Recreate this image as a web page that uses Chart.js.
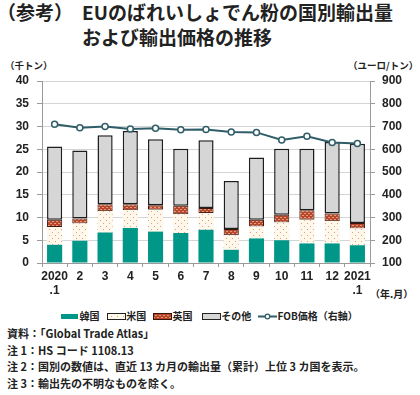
<!DOCTYPE html>
<html><head><meta charset="utf-8">
<script src="https://cdn.jsdelivr.net/npm/chart.js@4"></script>
<style>
html,body{margin:0;padding:0;background:#fff;}
#wrap{position:relative;width:420px;height:395px;overflow:hidden;font-family:"Liberation Sans","Noto Sans CJK JP",sans-serif;color:#222;}
.t{position:absolute;white-space:nowrap;font-family:"Noto Sans CJK JP",sans-serif;}
#chartBox{position:absolute;left:0;top:60px;width:420px;height:240px;}
.sw{position:absolute;}
</style></head><body>
<div id="wrap">
  <div class="t" style="left:-3px;top:-2px;font-size:19px;font-weight:bold;">（参考）</div>
  <div class="t" style="left:82px;top:-2px;font-size:19px;font-weight:bold;">EUのばれいしょでん粉の国別輸出量</div>
  <div class="t" style="left:82px;top:23px;font-size:19px;font-weight:bold;">および輸出価格の推移</div>
  <div class="t" style="left:5px;top:58px;font-size:9.5px;font-weight:bold;">（千トン）</div>
  <div class="t" style="left:348px;top:58px;font-size:9.5px;font-weight:bold;">（ユーロ/トン）</div>
  <div class="t" style="left:370px;top:286px;font-size:10px;font-weight:bold;">（年.月）</div>
  <div id="chartBox"><canvas id="c" width="420" height="240"></canvas></div>
  <div id="legend"></div>
  <div class="t" style="left:7px;top:325px;font-size:11px;font-weight:bold;line-height:16.7px;">
    資料：「Global Trade Atlas」<br>
    注 1：HS コード 1108.13<br>
    注 2：国別の数値は、直近 13 カ月の輸出量（累計）上位 3 カ国を表示。<br>
    注 3：輸出先の不明なものを除く。
  </div>
</div>
<script>
// ---- data ----
const categories = [["2020", ".1"], "2", "3", "4", "5", "6", "7", "8", "9", "10", "11", "12", ["2021", ".1"]];
const korea = [4.0, 4.9, 6.7, 7.7, 6.9, 6.6, 7.3, 2.9, 5.4, 5.0, 4.3, 4.3, 3.9];
const usa   = [3.9, 3.8, 4.7, 3.9, 4.8, 4.1, 3.7, 3.2, 2.6, 3.9, 5.2, 4.9, 3.7];
const uk    = [1.6, 1.1, 1.5, 1.3, 1.0, 1.9, 1.1, 1.4, 1.5, 1.7, 2.1, 1.7, 1.2];
const other = [16.1, 14.9, 15.2, 16.1, 14.5, 12.5, 14.9, 10.5, 13.7, 14.5, 13.5, 15.7, 17.4];
const fob   = [710, 695, 700, 689, 692, 686, 687, 676, 674, 641, 657, 630, 625];
const seriesNames = ["韓国", "米国", "英国", "その他", "FOB価格（右軸）"];

// ---- patterns ----
function makePattern(bg, fg, kind) {
  const p = document.createElement('canvas');
  const s = kind === 'dots' ? 6 : 4;
  p.width = s; p.height = s;
  const g = p.getContext('2d');
  g.fillStyle = bg; g.fillRect(0, 0, s, s);
  g.fillStyle = fg;
  if (kind === 'dots') { g.fillRect(1, 1, 1, 1); g.fillRect(4, 4, 1, 1); }
  else { g.fillRect(0, 1, 2, 1); g.fillRect(2, 3, 2, 1); }
  return g.createPattern(p, 'repeat');
}
const KOREA_C = '#009688';
const usPat = makePattern('#fdf7ec', '#e2a071', 'dots');
const ukPat = makePattern('#b4472c', '#e79676', 'brick');
const OTHER_C = '#d6d6d6';
const LINE_C = '#2f5e69';

Chart.defaults.font.family = '"Liberation Sans","Noto Sans CJK JP",sans-serif';
Chart.defaults.color = '#222';

new Chart(document.getElementById('c'), {
  type: 'bar',
  data: {
    labels: categories,
    datasets: [
      {label: seriesNames[0], data: korea, backgroundColor: KOREA_C, borderWidth: 0, yAxisID: 'y', order: 1},
      {label: seriesNames[1], data: usa, backgroundColor: usPat, borderWidth: 0, yAxisID: 'y', order: 1},
      {label: seriesNames[2], data: uk, backgroundColor: ukPat, borderColor: '#3b160c', borderWidth: 1, borderSkipped: false, yAxisID: 'y', order: 1},
      {label: seriesNames[3], data: other, backgroundColor: OTHER_C, borderColor: '#1e1e1e', borderWidth: 1.5, borderSkipped: false, yAxisID: 'y', order: 1},
      {label: seriesNames[4], type: 'line', data: fob, yAxisID: 'y2', borderColor: LINE_C, borderWidth: 2,
       pointRadius: 3, pointBackgroundColor: '#fff', pointBorderColor: LINE_C, pointBorderWidth: 1.5, tension: 0, order: 0}
    ]
  },
  options: {
    responsive: false,
    animation: false,
    layout: {padding: {top: 21, bottom: 0, left: 0, right: 0}},
    datasets: {bar: {categoryPercentage: 1.0, barPercentage: 0.6}},
    plugins: {legend: {display: false}, tooltip: {enabled: false}},
    scales: {
      x: {
        stacked: true,
        grid: {offset: true, drawOnChartArea: false, color: '#9a9a9a', tickLength: 4},
        border: {color: '#9a9a9a'},
        ticks: {font: {size: 12, weight: 'bold'}, color: '#222', padding: 2, maxRotation: 0, autoSkip: false},
        afterFit: s => { s.height = 37; }
      },
      y: {
        stacked: true, position: 'left', min: 0, max: 40,
        ticks: {stepSize: 5, font: {size: 12, weight: 'bold'}, color: '#222', padding: 8},
        grid: {color: '#d4d4d4', tickLength: 5, tickColor: '#9a9a9a'},
        border: {color: '#9a9a9a'},
        afterFit: s => { s.width = 42; }
      },
      y2: {
        position: 'right', min: 100, max: 900,
        ticks: {stepSize: 100, font: {size: 12, weight: 'bold'}, color: '#222', padding: 7},
        grid: {drawOnChartArea: false, tickLength: 5, color: '#9a9a9a'},
        border: {color: '#9a9a9a'},
        afterFit: s => { s.width = 50; }
      }
    }
  }
});

// ---- HTML legend ----
const legend = document.getElementById('legend');
const legendX = [60, 106.7, 153, 201.7, 258];
const fills = [KOREA_C, usPat, ukPat, OTHER_C, null];
seriesNames.forEach((name, i) => {
  const sw = document.createElement('canvas');
  sw.width = 19; sw.height = 9; sw.className = 'sw';
  sw.style.left = legendX[i] + 'px'; sw.style.top = '312px';
  const g = sw.getContext('2d');
  if (i < 4) {
    g.fillStyle = fills[i]; g.fillRect(1, 2, 17, 5);
    if (i >= 1) { g.strokeStyle = i === 2 ? '#3b160c' : '#222'; g.lineWidth = 1; g.strokeRect(0.5, 1.5, 18, 6); }
  } else {
    g.strokeStyle = LINE_C; g.lineWidth = 2; g.beginPath(); g.moveTo(0, 4.5); g.lineTo(19, 4.5); g.stroke();
    g.fillStyle = '#fff'; g.beginPath(); g.arc(9.5, 4.5, 2.3, 0, Math.PI * 2); g.fill();
    g.lineWidth = 1.2; g.stroke();
  }
  legend.appendChild(sw);
  const t = document.createElement('div');
  t.className = 't';
  t.textContent = name;
  t.style.left = (legendX[i] + 19.5) + 'px'; t.style.top = '308px';
  t.style.fontSize = '10px'; t.style.fontWeight = 'bold';
  legend.appendChild(t);
});
</script>
</body></html>
